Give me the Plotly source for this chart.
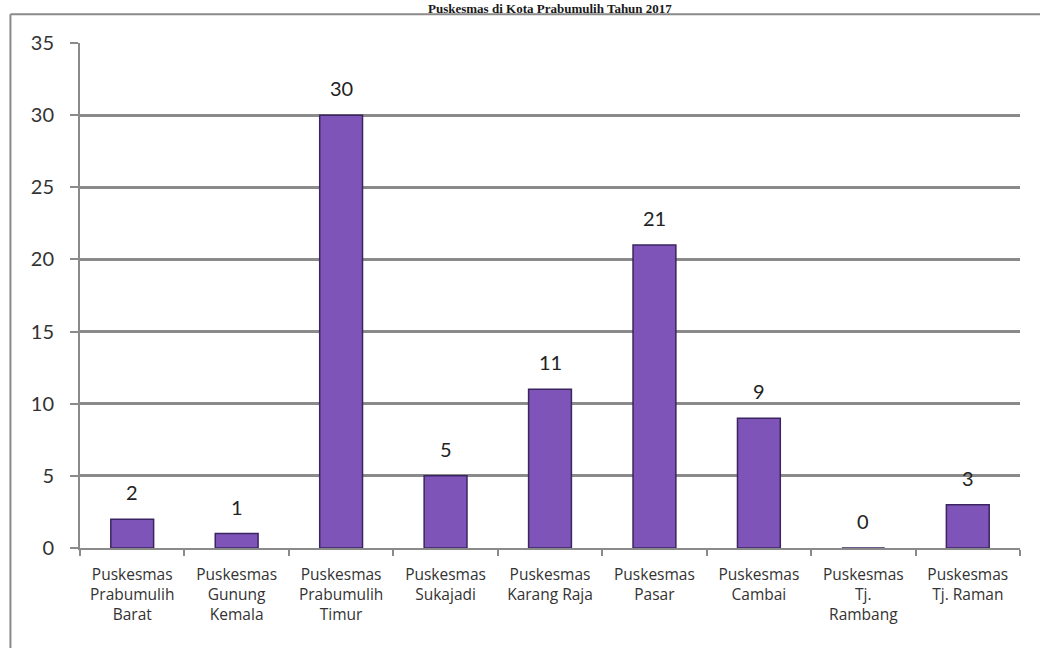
import plotly.graph_objects as go

# Kategori dan nilai
kategori = [
    'Puskesmas<br>Prabumulih<br>Barat',
    'Puskesmas<br>Gunung<br>Kemala',
    'Puskesmas<br>Prabumulih<br>Timur',
    'Puskesmas<br>Sukajadi',
    'Puskesmas<br>Karang Raja',
    'Puskesmas<br>Pasar',
    'Puskesmas<br>Cambai',
    'Puskesmas<br>Tj.<br>Rambang',
    'Puskesmas<br>Tj. Raman',
]
nilai = [2, 1, 30, 5, 11, 21, 9, 0, 3]
y_ticks = [0, 5, 10, 15, 20, 25, 30, 35]

fig = go.Figure()
fig.add_trace(go.Bar(
    x=kategori, y=nilai,
    width=0.41,
    marker=dict(color='#7f54b8', line=dict(color='#3a2560', width=1.5)),
    hoverinfo='x+y',
))

# label nilai di atas batang
for k, v in zip(kategori, nilai):
    fig.add_annotation(x=k, y=v, text=str(v), showarrow=False,
                       yanchor='bottom', yshift=13,
                       font=dict(family='Lato', size=20, color='#222222'))

# judul di bagian paling atas
fig.add_annotation(x=0.5, xref='paper', y=1, yref='paper', yshift=44,
                   text='<b>Puskesmas di Kota Prabumulih Tahun 2017</b>',
                   showarrow=False, yanchor='top',
                   font=dict(family='Liberation Serif', size=13, color='#1a1a1a'))

# bingkai area chart
fig.add_shape(type='line', xref='paper', yref='paper',
              x0=-0.074, x1=1.1, y0=1.057, y1=1.057,
              line=dict(color='#8a8a8a', width=2))
fig.add_shape(type='line', xref='paper', yref='paper',
              x0=-0.074, x1=-0.074, y0=1.057, y1=-0.3,
              line=dict(color='#8a8a8a', width=2))

fig.update_layout(
    width=1040, height=648,
    margin=dict(l=80, r=20, t=43, b=100),
    paper_bgcolor='white', plot_bgcolor='white',
    showlegend=False,
    bargap=0.59,
    xaxis=dict(
        automargin=False,
        showline=True, linecolor='#8a8a8a', linewidth=2,
        ticks='outside', tickson='boundaries', ticklen=6, tickcolor='#8a8a8a', tickwidth=2,
        ticklabelstandoff=11,
        tickfont=dict(family='Open Sans', size=15.5, color='#333333'),
        showgrid=False,
    ),
    yaxis=dict(
        automargin=False,
        range=[0, 35], tickvals=y_ticks,
        showline=True, linecolor='#8a8a8a', linewidth=2,
        ticks='outside', ticklen=8, tickcolor='#8a8a8a', tickwidth=2,
        ticklabelstandoff=12,
        gridcolor='#8a8a8a', gridwidth=3,
        tickfont=dict(family='Lato', size=20, color='#333333'),
        zeroline=False,
    ),
)

# hilangkan margin bawaan <body> agar grafik pas di jendela
fig.write_html('out.html', config={'displayModeBar': False},
               post_script="document.body.style.margin='0';")
